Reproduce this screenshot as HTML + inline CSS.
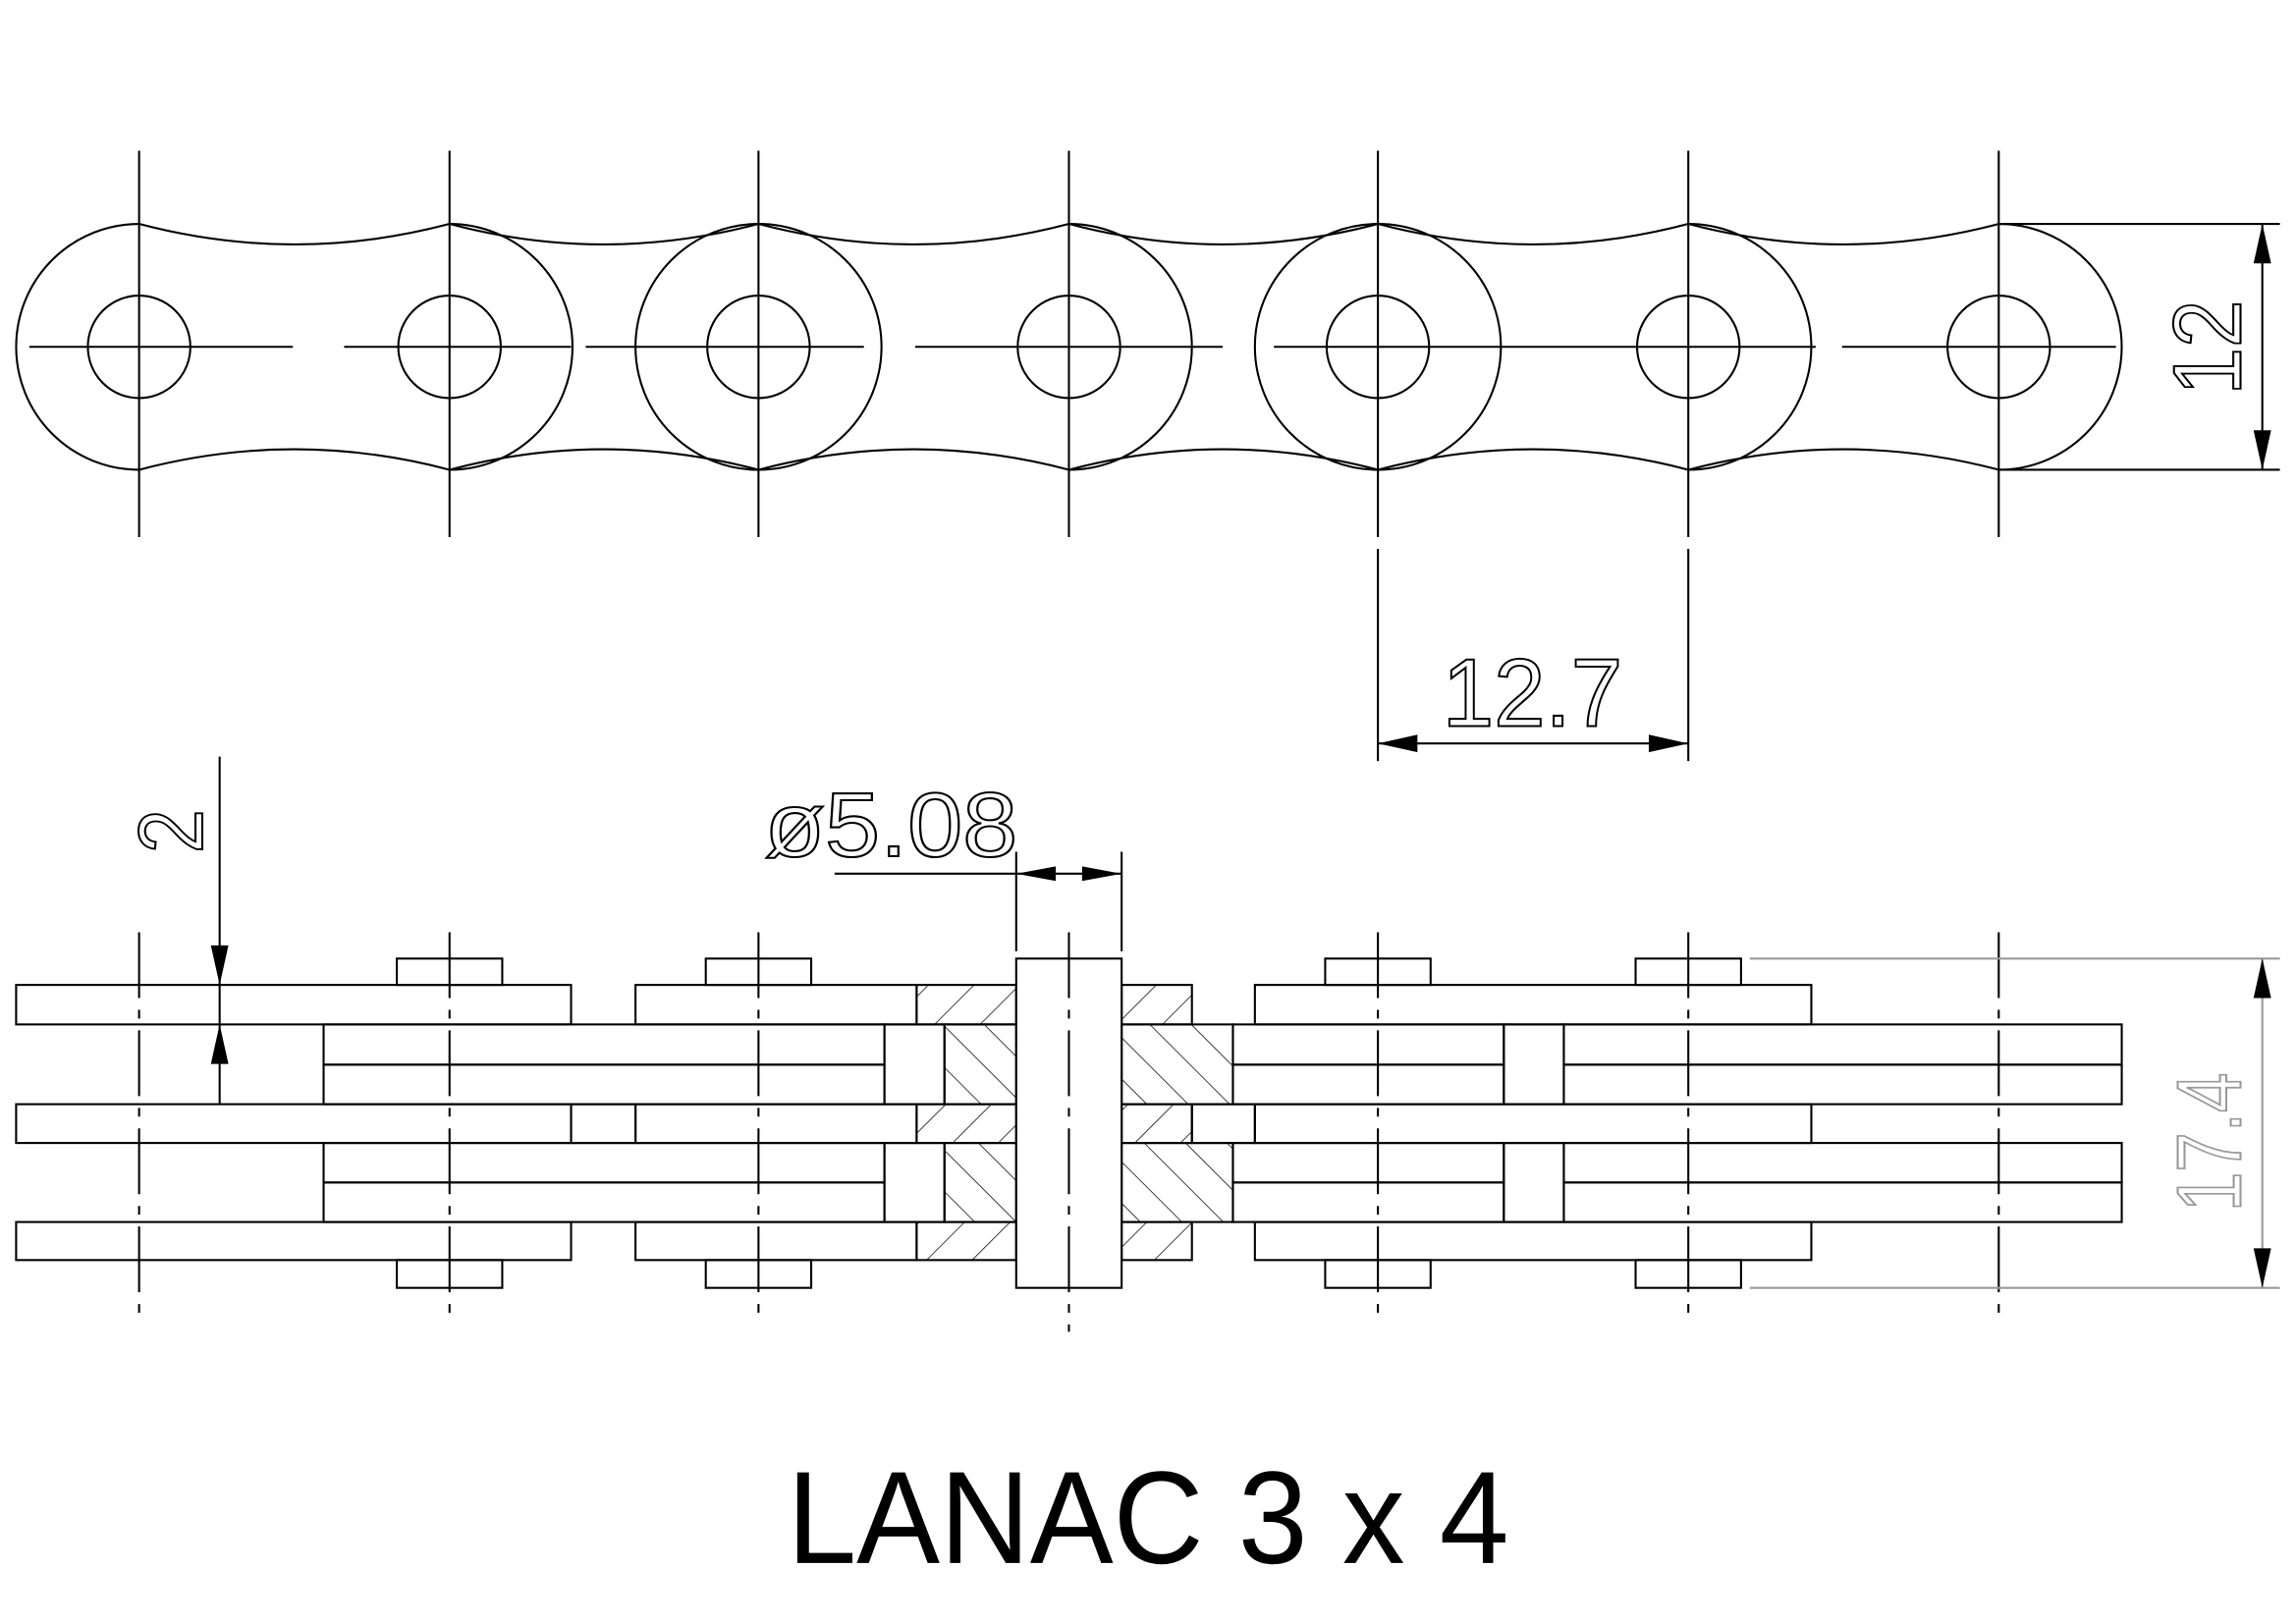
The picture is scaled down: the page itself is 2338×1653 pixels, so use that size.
<!DOCTYPE html>
<html><head><meta charset="utf-8"><style>html,body{margin:0;padding:0;background:#fff}svg{display:block}</style></head>
<body>
<svg width="2338" height="1653" viewBox="0 0 1568 1109" preserveAspectRatio="none" xmlns="http://www.w3.org/2000/svg">
<defs>
<pattern id="hf" patternUnits="userSpaceOnUse" width="22" height="22" patternTransform="rotate(45)"><line x1="0" y1="0" x2="0" y2="22" stroke="#000" stroke-width="1"/></pattern>
<pattern id="hb" patternUnits="userSpaceOnUse" width="20" height="20" patternTransform="rotate(-45)"><line x1="0" y1="0" x2="0" y2="20" stroke="#000" stroke-width="1"/></pattern>
</defs>
<g fill="none" stroke="#000" stroke-width="1.4">
<!-- top view centerlines -->
<line x1="20" y1="237" x2="200" y2="237"/><line x1="235" y1="237" x2="390" y2="237"/>
<line x1="400" y1="237" x2="590" y2="237"/><line x1="625" y1="237" x2="835" y2="237"/>
<line x1="870" y1="237" x2="1240" y2="237"/><line x1="1258" y1="237" x2="1445" y2="237"/>
<g>
<line x1="95" y1="103" x2="95" y2="367"/><line x1="307" y1="103" x2="307" y2="367"/><line x1="518" y1="103" x2="518" y2="367"/><line x1="730" y1="103" x2="730" y2="367"/><line x1="941" y1="103" x2="941" y2="367"/><line x1="1153" y1="103" x2="1153" y2="367"/><line x1="1365" y1="103" x2="1365" y2="367"/>
</g>
<!-- holes -->
<circle cx="95" cy="237" r="35"/><circle cx="307" cy="237" r="35"/><circle cx="518" cy="237" r="35"/><circle cx="730" cy="237" r="35"/><circle cx="941" cy="237" r="35"/><circle cx="1153" cy="237" r="35"/><circle cx="1365" cy="237" r="35"/>
<!-- outer circles -->
<path d="M95,153 A84,84 0 0 0 95,321"/>
<circle cx="518" cy="237" r="84"/><circle cx="941" cy="237" r="84"/>
<path d="M307,153 A84,84 0 0 1 307,321"/><path d="M730,153 A84,84 0 0 1 730,321"/><path d="M1153,153 A84,84 0 0 1 1153,321"/>
<path d="M1365,153 A84,84 0 0 1 1365,321"/>
<!-- waists -->
<path d="M95,153 Q201,181 307,153 Q412,181 518,153 Q624,181 730,153 Q835,181 941,153 Q1047,181 1153,153 Q1259,181 1365,153"/>
<path d="M95,321 Q201,293 307,321 Q412,293 518,321 Q624,293 730,321 Q835,293 941,321 Q1047,293 1153,321 Q1259,293 1365,321"/>
<!-- dim 12 -->
<line x1="1365" y1="153" x2="1557" y2="153"/><line x1="1365" y1="321" x2="1557" y2="321"/><line x1="1545" y1="153" x2="1545" y2="321"/>
<!-- dim 12.7 -->
<line x1="941" y1="375" x2="941" y2="520"/><line x1="1153" y1="375" x2="1153" y2="520"/><line x1="941" y1="508" x2="1153" y2="508"/>
</g>
<g fill="#000">
<polygon points="1545,153 1539,180 1551,180"/><polygon points="1545,321 1539,294 1551,294"/>
<polygon points="941,508 968,502 968,514"/><polygon points="1153,508 1126,502 1126,514"/>
</g>
<g font-family="Liberation Sans, sans-serif" fill="none" stroke="#000" stroke-width="1.4">
<text transform="translate(1530,270) rotate(-90)" font-size="66" textLength="65" lengthAdjust="spacingAndGlyphs">12</text>
<text x="985" y="496" font-size="66" textLength="123" lengthAdjust="spacingAndGlyphs">12.7</text>
<text x="522" y="585" font-size="62" textLength="173" lengthAdjust="spacingAndGlyphs">ø5.08</text>
<text transform="translate(138,583) rotate(-90)" font-size="62" textLength="30" lengthAdjust="spacingAndGlyphs">2</text>
<text transform="translate(1530,828) rotate(-90)" font-size="62" textLength="95" lengthAdjust="spacingAndGlyphs" stroke="#999">17.4</text>
</g>
<!-- bottom view -->
<g stroke="#000" stroke-width="1.4">
<!-- hatched regions -->
<rect x="626" y="673" width="68" height="27" fill="url(#hf)"/>
<rect x="626" y="754.5" width="68" height="26.5" fill="url(#hf)"/>
<rect x="626" y="835" width="68" height="26" fill="url(#hf)"/>
<rect x="645" y="700" width="49" height="54.5" fill="url(#hb)"/>
<rect x="645" y="781" width="49" height="54" fill="url(#hb)"/>
<rect x="766" y="673" width="48" height="27" fill="url(#hf)"/>
<rect x="766" y="754.5" width="48" height="26.5" fill="url(#hf)"/>
<rect x="766" y="835" width="48" height="26" fill="url(#hf)"/>
<rect x="766" y="700" width="76" height="54.5" fill="url(#hb)"/>
<rect x="766" y="781" width="76" height="54" fill="url(#hb)"/>
</g>
<g fill="none" stroke="#000" stroke-width="1.4">
<!-- outer plates -->
<rect x="11" y="673" width="379" height="27"/><rect x="434" y="673" width="192" height="27"/><rect x="857" y="673" width="380" height="27"/>
<rect x="11" y="754.5" width="379" height="26.5"/><rect x="390" y="754.5" width="44" height="26.5"/><rect x="434" y="754.5" width="192" height="26.5"/><rect x="814" y="754.5" width="43" height="26.5"/><rect x="857" y="754.5" width="380" height="26.5"/>
<rect x="11" y="835" width="379" height="26"/><rect x="434" y="835" width="192" height="26"/><rect x="857" y="835" width="380" height="26"/>
<!-- inner plates -->
<rect x="221" y="700" width="383" height="27.5"/><rect x="221" y="727.5" width="383" height="27"/>
<rect x="221" y="781" width="383" height="27"/><rect x="221" y="808" width="383" height="27"/>
<rect x="604" y="700" width="41" height="54.5"/><rect x="604" y="781" width="41" height="54"/>
<rect x="842" y="700" width="185" height="27.5"/><rect x="842" y="727.5" width="185" height="27"/>
<rect x="842" y="781" width="185" height="27"/><rect x="842" y="808" width="185" height="27"/>
<rect x="1027" y="700" width="41" height="54.5"/><rect x="1027" y="781" width="41" height="54"/>
<rect x="1068" y="700" width="381" height="27.5"/><rect x="1068" y="727.5" width="381" height="27"/>
<rect x="1068" y="781" width="381" height="27"/><rect x="1068" y="808" width="381" height="27"/>
<!-- bushing caps -->
<rect x="271" y="655" width="72" height="18"/><rect x="482" y="655" width="72" height="18"/><rect x="905" y="655" width="72" height="18"/><rect x="1117" y="655" width="72" height="18"/>
<rect x="271" y="861" width="72" height="19"/><rect x="482" y="861" width="72" height="19"/><rect x="905" y="861" width="72" height="19"/><rect x="1117" y="861" width="72" height="19"/>
<!-- pin -->
<rect x="694" y="655" width="72" height="225" fill="#fff"/>
<!-- centerlines -->
<g stroke-dasharray="45,8,6,8">
<line x1="95" y1="637" x2="95" y2="905"/><line x1="307" y1="637" x2="307" y2="905"/><line x1="518" y1="637" x2="518" y2="905"/><line x1="730" y1="637" x2="730" y2="910"/><line x1="941" y1="637" x2="941" y2="905"/><line x1="1153" y1="637" x2="1153" y2="905"/><line x1="1365" y1="637" x2="1365" y2="905"/>
</g>
<!-- dims -->
<line x1="150" y1="517" x2="150" y2="755"/>
<line x1="694" y1="582" x2="694" y2="650"/><line x1="766" y1="582" x2="766" y2="650"/><line x1="570" y1="597" x2="766" y2="597"/>
<g stroke="#999"><line x1="1195" y1="655" x2="1557" y2="655"/><line x1="1195" y1="880" x2="1557" y2="880"/><line x1="1545" y1="655" x2="1545" y2="880"/></g>
</g>
<g fill="#000">
<polygon points="150,673 144,646 156,646"/><polygon points="150,700 144,727 156,727"/>
<polygon points="694,597 721,592 721,602"/><polygon points="766,597 739,592 739,602"/>
<polygon points="1545,655 1539,682 1551,682"/><polygon points="1545,880 1539,853 1551,853"/>
</g>
<text x="784" y="1068" text-anchor="middle" font-family="Liberation Sans, sans-serif" font-size="90" textLength="493" lengthAdjust="spacingAndGlyphs" fill="#000">LANAC 3 x 4</text>
</svg>
</body></html>
